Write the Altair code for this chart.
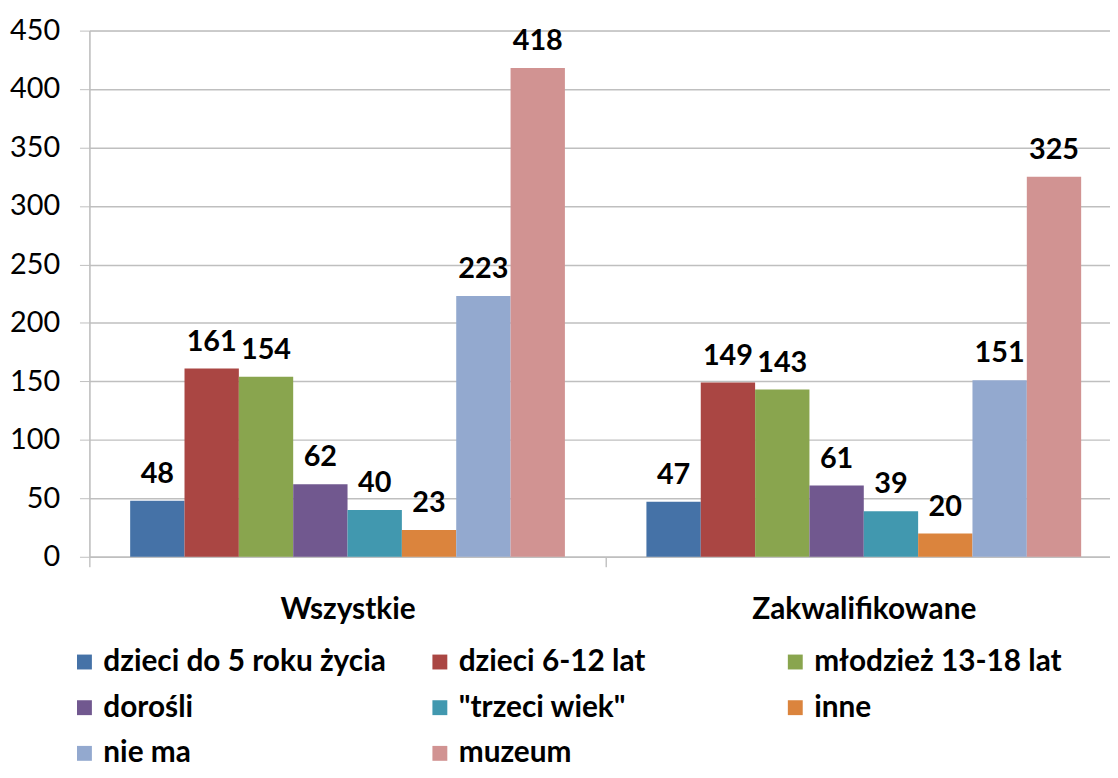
import altair as alt
import pandas as pd

groups = ["Wszystkie", "Zakwalifikowane"]
series = ["dzieci do 5 roku życia", "dzieci 6-12 lat", "młodzież 13-18 lat",
          "dorośli", "\"trzeci wiek\"", "inne", "nie ma", "muzeum"]
values_wszystkie = [48, 161, 154, 62, 40, 23, 223, 418]
values_zakwalifikowane = [47, 149, 143, 61, 39, 20, 151, 325]
colors = ["#4572A7", "#AA4643", "#89A54E", "#71588F", "#4198AF", "#DB843D", "#93A9CF", "#D19392"]
y_ticks = [0, 50, 100, 150, 200, 250, 300, 350, 400, 450]

rows = []
for g, vals in zip(groups, [values_wszystkie, values_zakwalifikowane]):
    for s, v in zip(series, vals):
        rows.append({"grupa": g, "seria": s, "wartosc": v})
df = pd.DataFrame(rows)

FONT = "Lato"

x = alt.X("grupa:N", sort=groups, title=None,
          scale=alt.Scale(paddingInner=0, paddingOuter=0, range=[0, 1040]),
          axis=alt.Axis(labelAngle=0, labelFont=FONT, labelFontSize=30, labelFontWeight="bold",
                        labelColor="#000000", labelPadding=28, labelLimit=600,
                        tickBand="extent", tickSize=10,
                        tickColor="#a6a6a6", domainColor="#bfbfbf", domainWidth=1.5))
xo = alt.XOffset("seria:N", sort=series, scale=alt.Scale(paddingOuter=0.75, paddingInner=0))
y = alt.Y("wartosc:Q", title=None,
          scale=alt.Scale(domain=[0, 450], nice=False),
          axis=alt.Axis(values=y_ticks, labelFont=FONT, labelFontSize=29, labelColor="#000000",
                        labelPadding=20, tickSize=10, tickColor="#bfbfbf", gridColor="#bfbfbf",
                        gridWidth=1.5, domainColor="#bfbfbf", domainWidth=1.5))
color = alt.Color("seria:N", sort=series, scale=alt.Scale(domain=series, range=colors),
                  legend=alt.Legend(title=None, orient="none", legendX=-20, legendY=621,
                                    direction="horizontal", columns=3, gridAlign="all",
                                    columnPadding=39, rowPadding=16, symbolType="square",
                                    symbolSize=225, symbolStrokeWidth=0, labelOffset=4,
                                    labelFont=FONT, labelFontSize=30, labelFontWeight="bold",
                                    labelColor="#000000", labelLimit=400, padding=0))

bars = alt.Chart(df).mark_bar().encode(x=x, xOffset=xo, y=y, color=color)
labels = alt.Chart(df).mark_text(font=FONT, fontSize=29, fontWeight="bold", color="#000000",
                                 baseline="middle", dy=-27).encode(
    x=x, xOffset=xo, y=y, text=alt.Text("wartosc:Q"))

chart = alt.layer(bars, labels).properties(
    width=1028, height=530,
    padding={"left": 82, "top": 20, "right": 0, "bottom": 212},
    autosize=alt.AutoSizeParams(type="none"),
).configure_view(stroke=None).configure(background="#ffffff")

chart.save("out.html", embed_options={"renderer": "svg", "actions": False})
